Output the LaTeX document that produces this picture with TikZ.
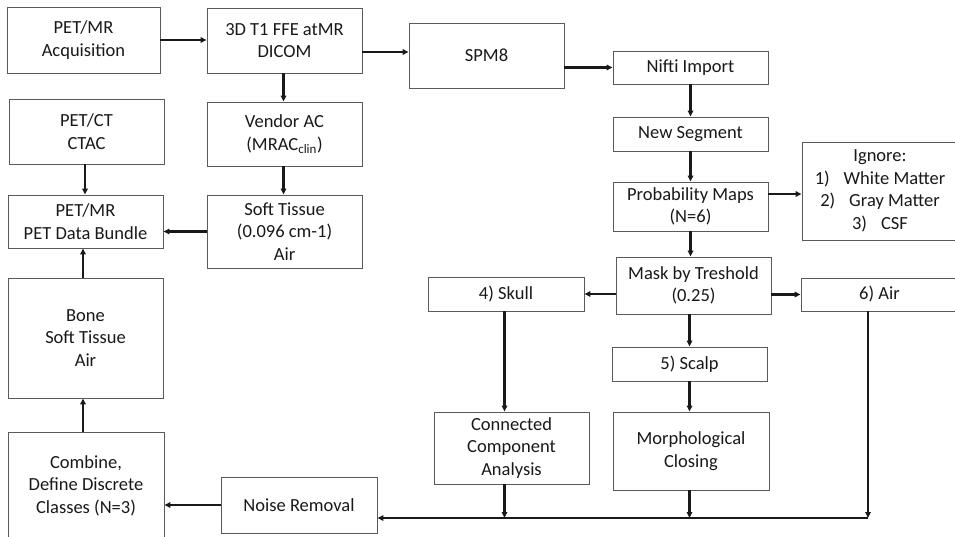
\documentclass[tikz,border=0pt]{standalone}
\usepackage{fontspec}
\setmainfont{Carlito}
\usetikzlibrary{arrows.meta}
\definecolor{boxgray}{HTML}{5A5A5A}
\begin{document}
\begin{tikzpicture}[x=1pt,y=-1pt,
  box/.style={draw=boxgray, line width=0.9pt, fill=white, inner sep=0pt, align=center,
    font=\fontsize{18.5}{22.5}\selectfont, text=black!90},
  arr/.style={draw=black!90, line width=2.1pt, -{Triangle[length=6pt,width=5.5pt]}},
  ln/.style={draw=black!90, line width=2.1pt}]
\useasboundingbox (0,0) rectangle (955,537);
% nodes
\node[box, minimum width=153, minimum height=66] (acq) at (83.5,40) {PET/MR\\Acquisition};
\node[box, minimum width=155, minimum height=65] (dicom) at (284.5,40.5) {3D T1 FFE atMR\\DICOM};
\node[box, minimum width=155, minimum height=65] (spm) at (486.5,55.5) {SPM8};
\node[box, minimum width=155, minimum height=33] (nifti) at (690.5,67.5) {Nifti Import};
\node[box, minimum width=155, minimum height=34] (newseg) at (690.5,134) {New Segment};
\node[box, minimum width=155, minimum height=49] (prob) at (690.5,206.5) {Probability Maps\\(N=6)};
\node[box, minimum width=156, minimum height=98] (ignore) at (880,191) {Ignore:\\1)\hspace{14pt}White Matter\\2)\hspace{14pt}Gray Matter\\3)\hspace{14pt}CSF};
\node[box, minimum width=155, minimum height=57] (mask) at (693.5,285.5) {Mask by Treshold\\(0.25)};
\node[box, minimum width=157, minimum height=33] (air6) at (879.5,294.5) {6) Air};
\node[box, minimum width=156, minimum height=34] (skull) at (506,294) {4) Skull};
\node[box, minimum width=155, minimum height=34] (scalp) at (689.5,364) {5) Scalp};
\node[box, minimum width=155, minimum height=72] (conn) at (511.5,448) {Connected\\Component\\Analysis};
\node[box, minimum width=156, minimum height=78] (morph) at (691,451) {Morphological\\Closing};
\node[box, minimum width=156, minimum height=56] (noise) at (299,505) {Noise Removal};
\node[box, minimum width=156, minimum height=107] (combine) at (86,485.5) {Combine,\\Define Discrete\\Classes (N=3)};
\node[box, minimum width=155, minimum height=120] (bone) at (85.5,338) {Bone\\Soft Tissue\\Air};
\node[box, minimum width=155, minimum height=53] (bundle) at (85.5,221.5) {PET/MR\\PET Data Bundle};
\node[box, minimum width=155, minimum height=65] (ctac) at (86.5,131.5) {PET/CT\\CTAC};
\node[box, minimum width=155, minimum height=64] (vendor) at (284.5,134) {Vendor AC\\(MRAC\textsubscript{clin})};
\node[box, minimum width=155, minimum height=73] (soft) at (284.5,231.5) {Soft Tissue\\(0.096 cm-1)\\Air};
\coordinate (bus) at (868,518);
% connectors
\draw[arr] (acq.east) -- (acq.east -| dicom.west);
\draw[arr] ([yshift=3.5pt]spm.west -| dicom.east) -- ([yshift=3.5pt]spm.west);
\draw[arr] (spm.east |- nifti.west) -- (nifti.west);
\draw[arr] (nifti.south) -- (newseg.north);
\draw[arr] (newseg.south) -- (prob.north);
\draw[arr] ([yshift=12.5pt]prob.east) -- ([yshift=12.5pt]prob.east -| ignore.west);
\draw[arr] (prob.south) -- (prob.south |- mask.north);
\draw[arr] (mask.east |- air6.west) -- (air6.west);
\draw[arr] (mask.west |- skull.east) -- (skull.east);
\draw[arr] (scalp.north |- mask.south) -- (scalp.north);
\draw[arr] ([xshift=-1.5pt]skull.south) -- ([xshift=-1.5pt]skull.south |- conn.north);
\draw[arr] (scalp.south) -- (scalp.south |- morph.north);
\draw[arr] ([xshift=-1.5pt]skull.south |- conn.south) -- ([xshift=-1.5pt]skull.south |- bus);
\draw[arr] (scalp.south |- morph.south) -- (scalp.south |- bus);
\draw[arr] (air6.south -| bus) -- (bus);
\draw[arr] (bus) -- (bus -| noise.east);
\draw[arr] (noise.west) -- (noise.west -| combine.east);
\draw[arr] ([xshift=-2.5pt]bone.south |- combine.north) -- ([xshift=-2.5pt]bone.south);
\draw[arr] ([xshift=-2.5pt]bone.north) -- ([xshift=-2.5pt]bone.north |- bundle.south);
\draw[arr] ([xshift=-1.5pt]ctac.south) -- ([xshift=-1.5pt]ctac.south |- bundle.north);
\draw[arr] ([xshift=-1pt]dicom.south) -- ([xshift=-1pt]vendor.north);
\draw[arr] ([xshift=-1pt]vendor.south) -- ([xshift=-1pt]soft.north);
\draw[arr] (soft.west) -- (soft.west -| bundle.east);
\end{tikzpicture}
\end{document}
